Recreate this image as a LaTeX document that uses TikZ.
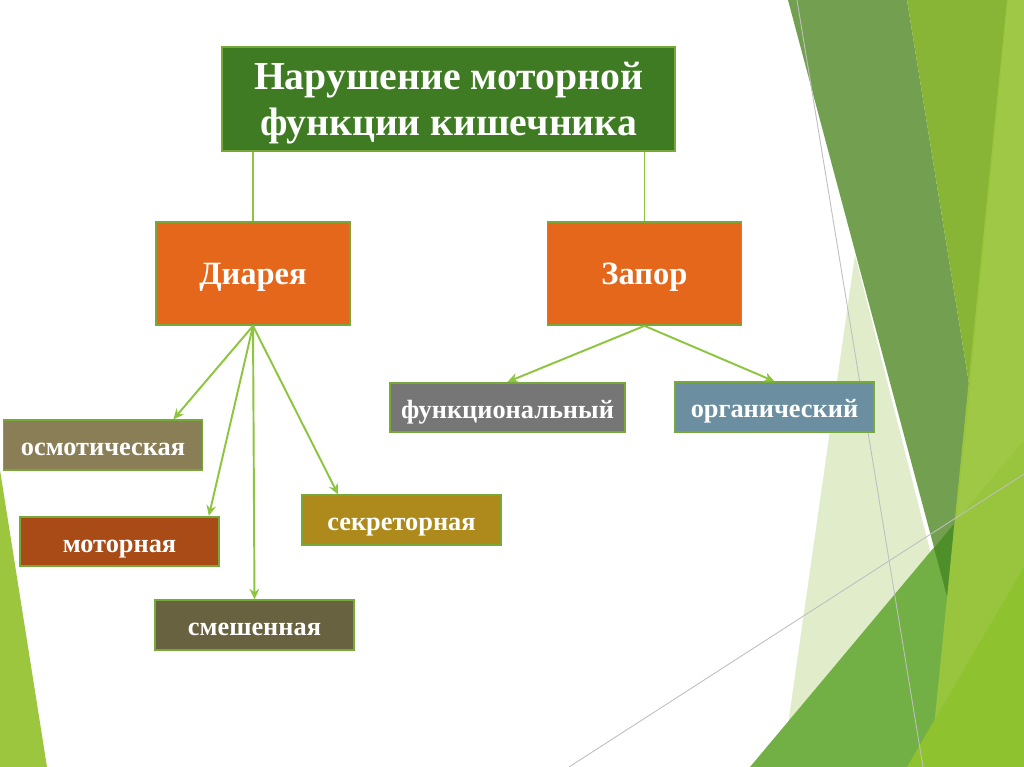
\documentclass[tikz,border=0pt]{standalone}
\usepackage{fontspec}
\setmainfont{Liberation Serif}
\usetikzlibrary{arrows.meta}

\definecolor{titlegreen}{HTML}{3E7B22}
\definecolor{boxedge}{HTML}{76A83A}
\definecolor{linkgreen}{HTML}{8DC53E}
\definecolor{typeorange}{HTML}{E4671C}
\definecolor{osmcol}{HTML}{8A7E56}
\definecolor{motcol}{HTML}{A84B16}
\definecolor{smecol}{HTML}{686240}
\definecolor{sekcol}{HTML}{AD8A1B}
\definecolor{funcol}{HTML}{767676}
\definecolor{orgcol}{HTML}{6B8FA1}
\definecolor{bandgr}{HTML}{72A050}
\definecolor{deepgr}{HTML}{4F8F2A}
\definecolor{brightgr}{HTML}{88B535}
\definecolor{lightcol}{HTML}{9BC63E}
\definecolor{palegr}{HTML}{DCE9C3}
\definecolor{midgr}{HTML}{72B046}
\definecolor{limegr}{HTML}{8FC22F}

\tikzset{
  box/.style={draw=boxedge, line width=1pt, text=white, font=\bfseries, inner sep=0pt},
  titlebox/.style={box, fill=titlegreen, align=center, minimum width=9.06cm, minimum height=2.08cm,
    font=\bfseries\fontsize{22.6pt}{26.2pt}\selectfont},
  typebox/.style={box, fill=typeorange, minimum width=3.88cm, minimum height=2.06cm,
    text height=16.5pt, text depth=3.5pt,
    font=\bfseries\fontsize{18.5pt}{22pt}\selectfont},
  subbox/.style={box, minimum width=3.98cm, minimum height=0.99cm,
    text height=14pt, text depth=2pt,
    font=\bfseries\fontsize{15pt}{18pt}\selectfont},
  link/.style={draw=linkgreen, line width=1.1pt},
  thinline/.style={draw=black!25, line width=0.5pt}
}

\begin{document}
\begin{tikzpicture}[x=0.02cm,y=-0.02cm]
  \useasboundingbox (0,0) rectangle (1024,767);
  \fill[white] (0,0) rectangle (1024,767);

  % green decoration
  \fill[palegr, opacity=0.85] (855,255) -- (782,767) -- (985,767) -- cycle;
  \fill[midgr] (750,767) -- (1024,440) -- (1024,767) -- cycle;
  \fill[bandgr] (788,0) -- (907,0) -- (970,390) -- (948,600) -- cycle;
  \fill[deepgr] (934,548) -- (954,524) -- (948,600) -- cycle;
  \fill[brightgr] (907,0) -- (1008,0) -- (970,390) -- cycle;
  \fill[lightcol, opacity=0.95] (1007,0) -- (1024,0) -- (1024,767) -- (930,767) -- cycle;
  \fill[limegr] (907,767) -- (1024,567) -- (1024,767) -- cycle;
  \fill[lightcol] (0,470) -- (0,767) -- (47,767) -- cycle;
  \draw[thinline] (797,0) -- (923,767);
  \draw[thinline] (569,767) -- (1024,474);

  % boxes
  \node[titlebox] (title) at (448.5,99) {\rule{0pt}{20.5pt}Нарушение моторной\\функции кишечника};
  \node[typebox] (diarrhea) at (253,273.5) {Диарея};
  \node[typebox] (constip) at (644.5,273.5) {Запор};
  \node[subbox, fill=osmcol] (osm) at (103,445) {осмотическая};
  \node[subbox, fill=motcol] (mot) at (119.5,541.5) {моторная};
  \node[subbox, fill=smecol] (sme) at (254.5,625) {смешенная};
  \node[subbox, fill=sekcol] (sek) at (401.5,520) {секреторная};
  \node[subbox, fill=funcol, minimum width=4.7cm] (func) at (507.5,407.5) {функциональный};
  \node[subbox, fill=orgcol] (org) at (774.5,407) {органический};

  \begin{scope}[link]
    \draw (title.south -| diarrhea.north) to (diarrhea.north);
    \draw (title.south -| constip.north) to (constip.north);
  \end{scope}
  \begin{scope}[link, -{Stealth[length=6pt,width=5.5pt]}]
    \draw (diarrhea.south) to (osm.20);
    \draw (diarrhea.south) to (mot.16);
    \draw (diarrhea.south) to (sme.north);
    \draw (diarrhea.south) to (sek.158);
    \draw (constip.south) to (func.north);
    \draw (constip.south) to (org.north);
  \end{scope}
\end{tikzpicture}
\end{document}
